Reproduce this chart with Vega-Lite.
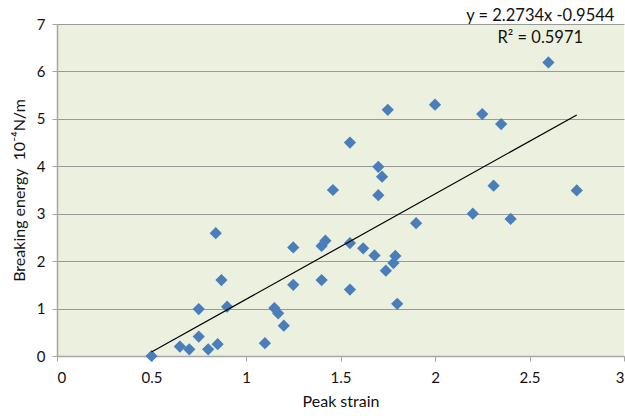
{
  "$schema": "https://vega.github.io/schema/vega-lite/v6.json",
  "width": 567,
  "height": 332,
  "autosize": {"type": "none"},
  "padding": {"left": 57, "top": 24, "right": 1, "bottom": 60},
  "background": "white",
  "config": {
    "view": {"fill": "#ebf1de", "stroke": null},
    "font": "Lato",
    "axis": {
      "labelFont": "Lato",
      "titleFont": "Lato",
      "labelFontSize": 15,
      "titleFontSize": 16,
      "titleFontWeight": "normal",
      "labelColor": "#111111",
      "titleColor": "#111111",
      "domainColor": "#a6a6a6",
      "tickColor": "#a6a6a6",
      "tickSize": 5,
      "domainWidth": 1.5,
      "tickWidth": 1
    }
  },
  "data": {
    "values": [
      {"strain": 0.50, "energy": 0.00},
      {"strain": 0.65, "energy": 0.20},
      {"strain": 0.70, "energy": 0.14},
      {"strain": 0.75, "energy": 0.41},
      {"strain": 0.75, "energy": 0.99},
      {"strain": 0.80, "energy": 0.14},
      {"strain": 0.84, "energy": 2.59},
      {"strain": 0.85, "energy": 0.25},
      {"strain": 0.87, "energy": 1.60},
      {"strain": 0.90, "energy": 1.04},
      {"strain": 1.10, "energy": 0.27},
      {"strain": 1.15, "energy": 1.01},
      {"strain": 1.17, "energy": 0.90},
      {"strain": 1.20, "energy": 0.64},
      {"strain": 1.25, "energy": 2.29},
      {"strain": 1.25, "energy": 1.50},
      {"strain": 1.40, "energy": 2.32},
      {"strain": 1.42, "energy": 2.43},
      {"strain": 1.40, "energy": 1.60},
      {"strain": 1.46, "energy": 3.50},
      {"strain": 1.55, "energy": 4.50},
      {"strain": 1.55, "energy": 2.38},
      {"strain": 1.55, "energy": 1.40},
      {"strain": 1.62, "energy": 2.27},
      {"strain": 1.68, "energy": 2.12},
      {"strain": 1.70, "energy": 3.99},
      {"strain": 1.72, "energy": 3.78},
      {"strain": 1.70, "energy": 3.39},
      {"strain": 1.75, "energy": 5.19},
      {"strain": 1.74, "energy": 1.80},
      {"strain": 1.78, "energy": 1.96},
      {"strain": 1.79, "energy": 2.11},
      {"strain": 1.80, "energy": 1.10},
      {"strain": 1.90, "energy": 2.80},
      {"strain": 2.00, "energy": 5.30},
      {"strain": 2.20, "energy": 3.00},
      {"strain": 2.25, "energy": 5.10},
      {"strain": 2.31, "energy": 3.59},
      {"strain": 2.35, "energy": 4.89},
      {"strain": 2.40, "energy": 2.89},
      {"strain": 2.60, "energy": 6.19},
      {"strain": 2.75, "energy": 3.49}
    ]
  },
  "layer": [
    {
      "mark": {"type": "point", "shape": "diamond", "filled": true, "size": 150, "color": "#4a7ebb", "opacity": 1},
      "encoding": {
        "x": {
          "field": "strain",
          "type": "quantitative",
          "scale": {"domain": [0, 3], "nice": false, "zero": false},
          "axis": {
            "title": "Peak strain",
            "values": [0, 0.5, 1, 1.5, 2, 2.5, 3],
            "format": "~g",
            "grid": false,
            "labelPadding": 9,
            "titlePadding": 8
          }
        },
        "y": {
          "field": "energy",
          "type": "quantitative",
          "scale": {"domain": [0, 7], "nice": false},
          "axis": {
            "title": "Breaking energy\u00a0 10⁻⁴N/m",
            "values": [0, 1, 2, 3, 4, 5, 6, 7],
            "grid": true,
            "gridColor": "#999999",
            "gridWidth": 1.2,
            "labelPadding": 7,
            "titlePadding": 9
          }
        }
      }
    },
    {
      "transform": [{"regression": "energy", "on": "strain"}],
      "mark": {"type": "line", "color": "black", "strokeWidth": 1.2},
      "encoding": {
        "x": {"field": "strain", "type": "quantitative"},
        "y": {"field": "energy", "type": "quantitative"}
      }
    },
    {
      "data": {"values": [{"label": "trendline"}]},
      "mark": {
        "type": "text",
        "text": ["y = 2.2734x -0.9544", "R² = 0.5971"],
        "align": "center",
        "baseline": "alphabetic",
        "fontSize": 16.5,
        "lineHeight": 22,
        "color": "#111111"
      },
      "encoding": {
        "x": {"datum": 2.557},
        "y": {"datum": 7.068}
      }
    }
  ]
}
